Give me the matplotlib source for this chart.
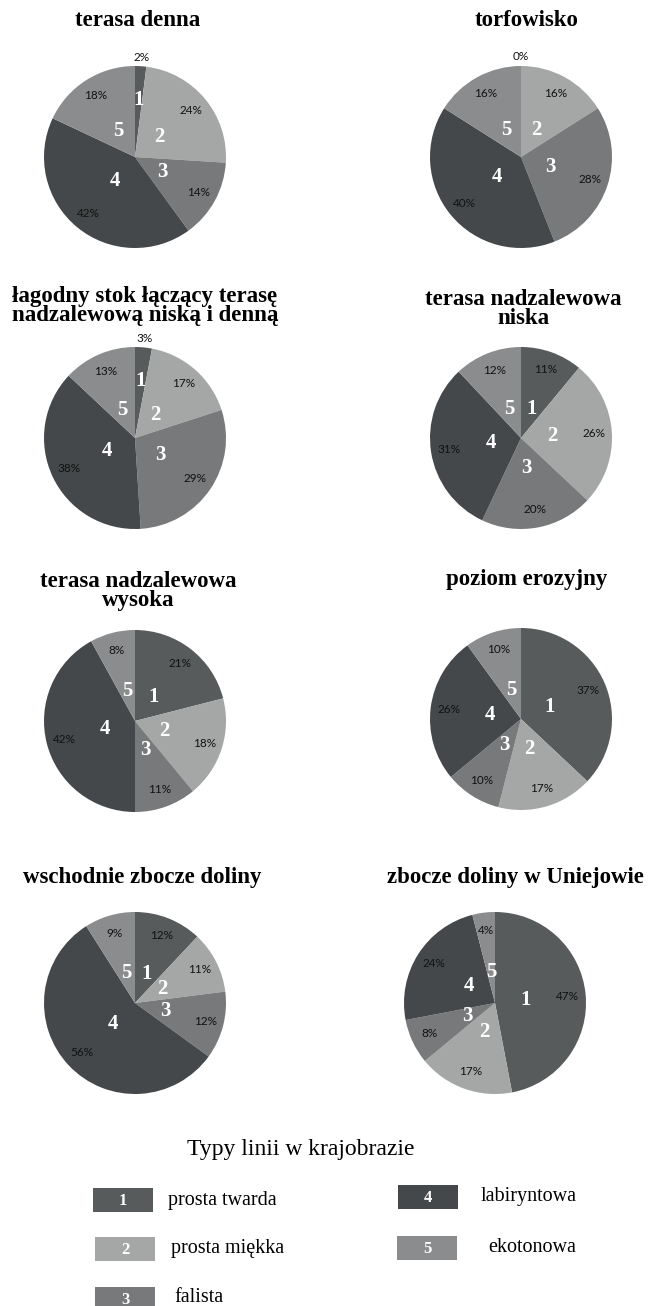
import matplotlib.pyplot as plt
from matplotlib.patches import Rectangle

W, H = 649, 1306

# udzialy typow linii (1..5) w kazdej jednostce, w %
titles = ['terasa denna', 'torfowisko',
          'łagodny stok łączący terasę\nnadzalewową niską i denną', 'terasa nadzalewowa\nniska',
          'terasa nadzalewowa\nwysoka', 'poziom erozyjny',
          'wschodnie zbocze doliny', 'zbocze doliny w Uniejowie']
terasa_denna = [2, 24, 14, 42, 18]
torfowisko = [0, 16, 28, 40, 16]
lagodny_stok = [3, 17, 29, 38, 13]
nadzal_niska = [11, 26, 20, 31, 12]
nadzal_wysoka = [21, 18, 11, 42, 8]
poziom_erozyjny = [37, 17, 10, 26, 10]
wschodnie_zbocze = [12, 11, 12, 56, 9]
zbocze_uniejow = [47, 17, 8, 24, 4]
series = [terasa_denna, torfowisko, lagodny_stok, nadzal_niska,
          nadzal_wysoka, poziom_erozyjny, wschodnie_zbocze, zbocze_uniejow]

types = ['1', '2', '3', '4', '5']
type_names = ['prosta twarda', 'prosta miękka', 'falista', 'labiryntowa', 'ekotonowa']
colors = ['#585b5c', '#a5a7a7', '#77797a', '#45484a', '#8a8c8d']

# polozenie wykresow (srodek kola i tytulu) w pikselach
centers = [(135, 157), (521, 157), (135, 438), (521, 438),
           (135, 721), (521, 719), (135, 1003), (495, 1003)]
title_pos = [(138, 20), (527, 20), (145, 306), (523, 309),
             (138, 591), (527, 579), (142, 877), (515, 877)]
r = 91

serif = 'Liberation Serif'

fig = plt.figure(figsize=(W / 100, H / 100), dpi=100)

for vals, (cx, cy), title, (tx, ty) in zip(series, centers, titles, title_pos):
    ax = fig.add_axes([(cx - r) / W, 1 - (cy + r) / H, 2 * r / W, 2 * r / H])
    wedges, texts, autotexts = ax.pie(
        vals, colors=colors, labels=types, startangle=90, counterclock=False,
        labeldistance=0.34, pctdistance=0.8, autopct=lambda p: f'{p:.0f}%',
        wedgeprops=dict(linewidth=0),
        textprops=dict(fontsize=8.5, color='#111111', fontfamily='Lato'))
    for v, t, a in zip(vals, texts, autotexts):
        t.set_fontfamily(serif)
        t.set_fontweight('bold')
        t.set_fontsize(15)
        t.set_color('white')
        t.set_ha('center')
        t.set_va('center')
        x, y = a.get_position()
        if v < 4:
            a.set_position((x / 0.8 * 1.1, y / 0.8 * 1.1))
            tx_, ty_ = t.get_position()
            t.set_position((tx_ / 0.34 * 0.63, ty_ / 0.34 * 0.63))
        if v == 0:
            t.set_visible(False)
    ax.set_xlim(-1, 1)
    ax.set_ylim(-1, 1)
    ax.set_aspect('equal')
    fig.text(tx / W, 1 - ty / H, title, ha='center', va='center',
             fontfamily=serif, fontweight='bold', fontsize=16.5, linespacing=0.85)

# legenda
lax = fig.add_axes([0, 0, 1, 1])
lax.set_xlim(0, W)
lax.set_ylim(H, 0)
lax.axis('off')
lax.text(301, 1150, 'Typy linii w krajobrazie', ha='center', va='center',
         fontfamily=serif, fontsize=17)
box_pos = [(93, 1188), (95, 1237), (95, 1287), (398, 1185), (397, 1236)]
text_pos = [(168, 1200), (171, 1249), (174, 1298), (481, 1197), (488, 1247)]
for num, name, col, (bx, by), (lx, ly) in zip(types, type_names, colors, box_pos, text_pos):
    lax.add_patch(Rectangle((bx, by), 60, 24, facecolor=col, edgecolor='none'))
    lax.text(bx + 30, by + 13, num, ha='center', va='center', color='white',
             fontfamily=serif, fontweight='bold', fontsize=12)
    lax.text(lx, ly, name, ha='left', va='center', fontfamily=serif, fontsize=14.5)

fig.savefig('out.png', dpi=100)
